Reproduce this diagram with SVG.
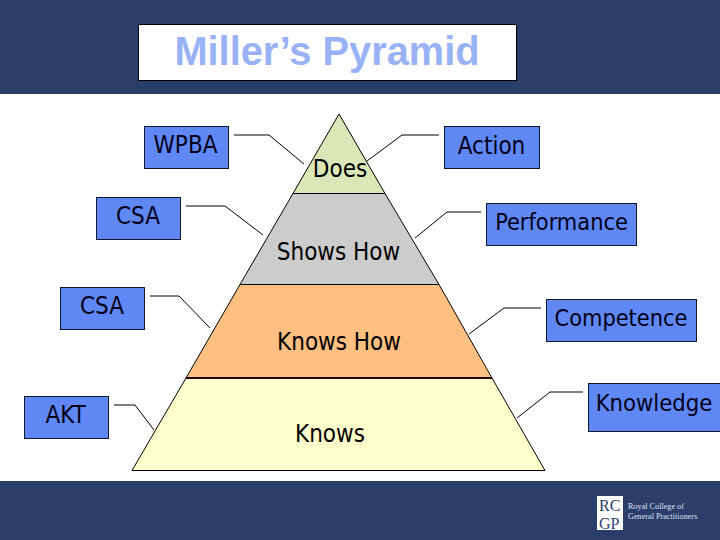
<svg xmlns="http://www.w3.org/2000/svg" width="720" height="540" viewBox="0 0 720 540">
<style>
.band{fill:#2a3e6c}
.box{fill:#5f88f4;stroke:#10182c;stroke-width:1}
.lab{font-family:"DejaVu Sans Condensed","DejaVu Sans",sans-serif;font-size:24px;fill:#000018}
.long{font-size:23.3px}
.lvl{font-family:"DejaVu Sans Condensed","DejaVu Sans",sans-serif;font-size:24px;fill:#000}
.tier{stroke:#000;stroke-width:1}
.conn{fill:none;stroke:#000;stroke-width:1}
.logo{font-family:"Liberation Serif",serif;fill:#dfe4ee;font-size:8.2px}
.rc{font-family:"Liberation Serif",serif;fill:#2a3e6c;font-size:16px}
</style>
<rect width="720" height="540" fill="#fff"/>
<g id="header">
<rect class="band" width="720" height="94"/>
<rect x="138.5" y="24.5" width="378" height="56" fill="#fff" stroke="#000"/>
<text x="327" y="65" text-anchor="middle" font-family="Liberation Sans,sans-serif" font-weight="700" font-size="39.8px" fill="#99b2f6">Miller’s Pyramid</text>
</g>
<g id="footer">
<rect class="band" y="481" width="720" height="59"/>
<rect x="597" y="496" width="26" height="34" fill="#fff"/>
<text class="rc" x="599" y="510.5">RC</text>
<text class="rc" x="599" y="528.5">GP</text>
<text class="logo" x="628" y="509">Royal College of</text>
<text class="logo" x="628" y="519">General Practitioners</text>
</g>
<g id="pyramid">
<g id="level-does"><polygon class="tier" points="339,114 293,193.5 385,193.5" fill="#d9e8b6"/><text class="lvl" x="340" y="177" text-anchor="middle">Does</text></g>
<g id="level-shows-how"><polygon class="tier" points="293,193.5 385,193.5 439,284.5 240,284.5" fill="#cccccc"/><text class="lvl" x="338.5" y="260" text-anchor="middle">Shows How</text></g>
<g id="level-knows-how"><polygon class="tier" points="240,284.5 439,284.5 492,378 186,378" fill="#ffbf80"/><text class="lvl" x="339" y="350" text-anchor="middle">Knows How</text></g>
<g id="level-knows"><polygon class="tier" points="186,378 492,378 545,470.5 132,470.5" fill="#ffffcc"/><line x1="186" y1="378" x2="492" y2="378" stroke="#1a0800" stroke-width="2"/><text class="lvl" x="330" y="442" text-anchor="middle">Knows</text></g>
</g>
<g id="connectors">
<polyline class="conn" points="234,135 269,135 304,164"/>
<polyline class="conn" points="439,135 402,135 367,161"/>
<polyline class="conn" points="186,206 225,206 263,235"/>
<polyline class="conn" points="481,212 447,212 415,238"/>
<polyline class="conn" points="150,296 179,296 210,328"/>
<polyline class="conn" points="541,308 504,308 469,334"/>
<polyline class="conn" points="114,405 135,405 154,430"/>
<polyline class="conn" points="583,392 550,392 517,418"/>
</g>
<g id="node-wpba"><rect class="box" x="144.5" y="126.5" width="84" height="42"/><text class="lab" x="185.5" y="153" text-anchor="middle">WPBA</text></g>
<g id="node-action"><rect class="box" x="444.5" y="126.5" width="95" height="42"/><text class="lab" x="491.5" y="154" text-anchor="middle">Action</text></g>
<g id="node-csa-1"><rect class="box" x="96.5" y="197.5" width="84" height="42"/><text class="lab" x="138" y="224" text-anchor="middle">CSA</text></g>
<g id="node-performance"><rect class="box" x="486.5" y="203.5" width="150" height="42"/><text class="lab long" x="561.5" y="230" text-anchor="middle">Performance</text></g>
<g id="node-csa-2"><rect class="box" x="60.5" y="287.5" width="84" height="42"/><text class="lab" x="102" y="314" text-anchor="middle">CSA</text></g>
<g id="node-competence"><rect class="box" x="546.5" y="299.5" width="150" height="42"/><text class="lab long" x="621" y="326" text-anchor="middle">Competence</text></g>
<g id="node-akt"><rect class="box" x="24.5" y="396.5" width="84" height="42"/><text class="lab" x="65.5" y="423" text-anchor="middle">AKT</text></g>
<g id="node-knowledge"><rect class="box" x="588.5" y="383.5" width="140" height="48"/><text class="lab" x="654" y="411" text-anchor="middle" style="font-size:23.6px">Knowledge</text></g>
</svg>
